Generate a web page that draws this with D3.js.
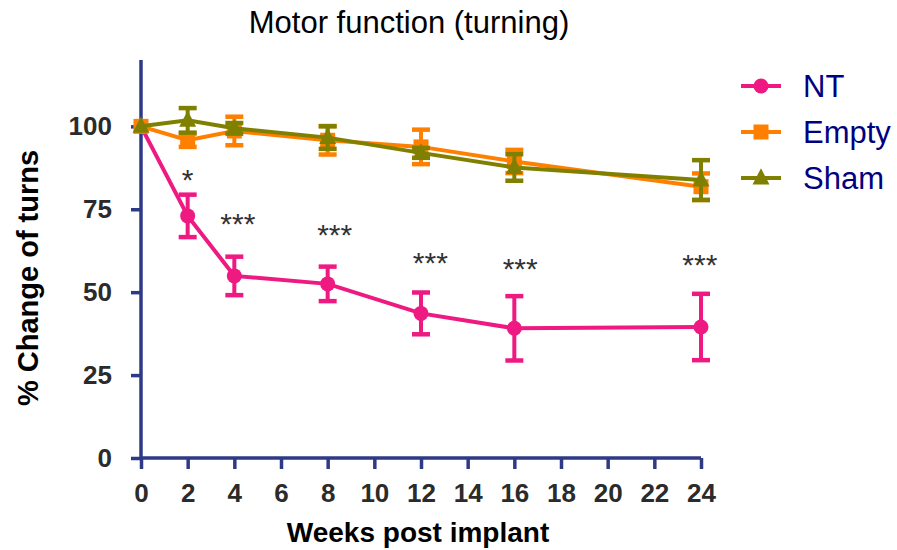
<!DOCTYPE html>
<html>
<head>
<meta charset="utf-8">
<script src="https://cdn.jsdelivr.net/npm/d3@7"></script>
<style>
  html, body { margin: 0; padding: 0; background: #fff; }
  svg { display: block; font-family: "Liberation Sans", Arial, sans-serif; }
</style>
</head>
<body>
<svg id="chart" width="897" height="550"></svg>
<script>
// ---- data ----
const weeks = [0, 2, 4, 8, 12, 16, 24];
const ntMean = [100, 73.0, 54.9, 52.5, 43.6, 39.1, 39.5];
const ntErr = [0, 6.4, 5.8, 5.2, 6.3, 9.7, 10.0];
const emptyMean = [100, 95.8, 98.6, 95.8, 93.8, 89.4, 81.8];
const emptyErr = [0, 2.0, 4.3, 4.3, 5.2, 3.5, 4.0];
const shamMean = [100, 101.8, 99.4, 96.6, 92.0, 87.6, 83.8];
const shamErr = [0, 3.7, 1.6, 3.4, 1.5, 4.0, 6.0];
const seriesNames = ["NT", "Empty", "Sham"];
const seriesColors = ["#ee1a82", "#ff8000", "#808000"];
const seriesShapes = ["circle", "square", "triangle"];
const xTicks = [0, 2, 4, 6, 8, 10, 12, 14, 16, 18, 20, 22, 24];
const yTicks = [0, 25, 50, 75, 100];
// significance labels (anchored in data units)
const starLabels = ["*", "***", "***", "***", "***", "***"];
const starX = [2.0, 4.15, 8.3, 12.4, 16.25, 23.95];
const starY = [85.9, 72.6, 69.3, 60.9, 59.1, 60.3];

const titleText = "Motor function (turning)";
const xLabel = "Weeks post implant";
const yLabel = "% Change of turns";

// ---- layout ----
const svg = d3.select("#chart");
const axisColor = "#2f3a87";
const x = d3.scaleLinear().domain([0, 24]).range([141, 701]);
const y = d3.scaleLinear().domain([0, 120]).range([458, 60]);

// title
svg.append("text").attr("x", 409).attr("y", 33).attr("text-anchor", "middle")
  .attr("font-size", 31).attr("fill", "#000").text(titleText);

// axes
const xAxis = d3.axisBottom(x).tickValues(xTicks).tickSize(11).tickPadding(15).tickSizeOuter(0);
const gx = svg.append("g").attr("transform", `translate(0,${y(0)})`).call(xAxis);
const yAxis = d3.axisLeft(y).tickValues(yTicks).tickSize(10).tickPadding(19).tickSizeOuter(0);
const gy = svg.append("g").attr("transform", `translate(${x(0)},0)`).call(yAxis);
[gx, gy].forEach(g => {
  g.select(".domain").remove();
  g.selectAll(".tick line").attr("stroke", axisColor).attr("stroke-width", 3.5);
  g.selectAll(".tick text").attr("fill", "#2b2b2b").attr("font-size", 26)
    .attr("font-weight", "bold").attr("font-family", "Liberation Sans, Arial, sans-serif");
});
svg.append("line").attr("x1", x(0)).attr("x2", x(24)).attr("y1", y(0)).attr("y2", y(0))
  .attr("stroke", axisColor).attr("stroke-width", 3.5);
svg.append("line").attr("x1", x(0)).attr("x2", x(0)).attr("y1", y(0)).attr("y2", y(120))
  .attr("stroke", axisColor).attr("stroke-width", 3.5);

// axis labels
svg.append("text").attr("x", 418).attr("y", 542).attr("text-anchor", "middle")
  .attr("font-size", 28).attr("font-weight", "bold").attr("fill", "#000").text(xLabel);
svg.append("text").attr("transform", "translate(38,278) rotate(-90)").attr("text-anchor", "middle")
  .attr("font-size", 29).attr("font-weight", "bold").attr("fill", "#000").text(yLabel);

// marker helper
function drawMarker(g, shape, cx, cy, color) {
  if (shape === "circle") {
    g.append("circle").attr("cx", cx).attr("cy", cy).attr("r", 7.5).attr("fill", color);
  } else if (shape === "square") {
    g.append("rect").attr("x", cx - 7.5).attr("y", cy - 7.5).attr("width", 15).attr("height", 15).attr("fill", color);
  } else {
    const s = 17;
    const h = s * 0.95;
    g.append("path").attr("d", `M${cx},${cy - h * 0.6}L${cx + s / 2},${cy + h * 0.4}L${cx - s / 2},${cy + h * 0.4}Z`).attr("fill", color);
  }
}

const seriesMeans = [ntMean, emptyMean, shamMean];
const seriesErrs = [ntErr, emptyErr, shamErr];
const line = d3.line().x(d => x(d[0])).y(d => y(d[1]));

seriesNames.forEach((name, si) => {
  const color = seriesColors[si];
  const g = svg.append("g");
  const pts = weeks.map((w, i) => [w, seriesMeans[si][i], seriesErrs[si][i]]);
  // error bars
  pts.forEach(p => {
    if (p[2] <= 0) return;
    const cx = x(p[0]), t = y(p[1] + p[2]), b = y(p[1] - p[2]);
    g.append("line").attr("x1", cx).attr("x2", cx).attr("y1", t).attr("y2", b)
      .attr("stroke", color).attr("stroke-width", 4);
    [t, b].forEach(yy => g.append("line").attr("x1", cx - 9).attr("x2", cx + 9)
      .attr("y1", yy).attr("y2", yy).attr("stroke", color).attr("stroke-width", 4.5));
  });
  g.append("path").datum(pts).attr("d", line).attr("fill", "none")
    .attr("stroke", color).attr("stroke-width", 4);
  pts.forEach(p => drawMarker(g, seriesShapes[si], x(p[0]), y(p[1]), color));
});

// significance stars
starLabels.forEach((s, i) => {
  svg.append("text").attr("x", x(starX[i])).attr("y", y(starY[i])).attr("dy", "0.57em")
    .attr("text-anchor", "middle").attr("font-size", 30).attr("fill", "#333").text(s);
});

// legend
const legY = [86, 132, 178];
seriesNames.forEach((name, si) => {
  const g = svg.append("g");
  const color = seriesColors[si];
  g.append("line").attr("x1", 741).attr("x2", 781).attr("y1", legY[si]).attr("y2", legY[si])
    .attr("stroke", color).attr("stroke-width", 4);
  drawMarker(g, seriesShapes[si], 761, legY[si], color);
  g.append("text").attr("x", 803).attr("y", legY[si]).attr("dy", "0.36em")
    .attr("font-size", 31).attr("fill", "#000080").text(name);
});
</script>
</body>
</html>
